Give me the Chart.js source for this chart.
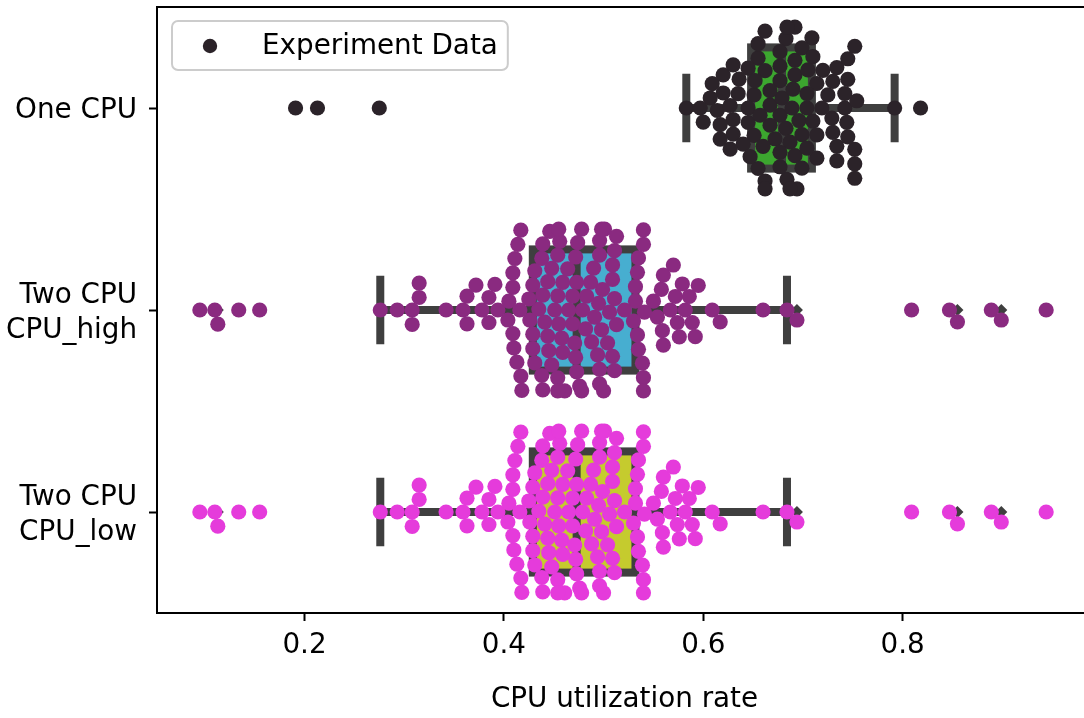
<!DOCTYPE html>
<html>
<head>
<meta charset="utf-8">
<title>CPU utilization rate</title>
<script src="https://cdn.jsdelivr.net/npm/chart.js@4.4.0/dist/chart.umd.min.js"></script>
<style>
  html, body { margin: 0; padding: 0; background: #ffffff; overflow: hidden; }
  #wrap { width: 1100px; height: 718px; }
</style>
</head>
<body>
<div id="wrap"><canvas id="chart" width="1100" height="718"></canvas></div>
<script>
// Category labels (multi-line labels are arrays of lines)
const categories = [['One CPU'], ['Two CPU', 'CPU_high'], ['Two CPU', 'CPU_low']];

// Measured CPU utilization per run
const oneCpu = [
  0.655, 0.662, 0.683, 0.699,
  0.651, 0.683, 0.696,
  0.651, 0.677, 0.692, 0.710,
  0.630, 0.645, 0.662, 0.677, 0.692, 0.709, 0.734, 0.744, 0.752,
  0.609, 0.620, 0.636, 0.655, 0.672, 0.687, 0.704, 0.714, 0.725, 0.745,
  0.607, 0.620, 0.635, 0.667, 0.684, 0.699, 0.714, 0.729, 0.742, 0.752,
  0.583, 0.597, 0.614, 0.627, 0.645, 0.662, 0.677, 0.694, 0.705, 0.720, 0.734, 0.745, 0.754,
  0.600, 0.617, 0.630, 0.645, 0.667, 0.679, 0.692, 0.704, 0.714, 0.730, 0.745, 0.752,
  0.617, 0.630, 0.640, 0.655, 0.677, 0.689, 0.704, 0.719, 0.742, 0.752,
  0.627, 0.647, 0.660, 0.677, 0.690, 0.710, 0.730,
  0.667, 0.687, 0.734,
  0.652, 0.677, 0.692,
  0.657, 0.662, 0.684, 0.699,
  0.191, 0.213, 0.275, 0.792, 0.818
];

const twoCpuHigh = [
  0.095, 0.110, 0.113, 0.134, 0.155,
  0.276, 0.293, 0.308, 0.308, 0.315, 0.315, 0.342, 0.359, 0.363, 0.363, 0.372, 0.378, 0.385, 0.385, 0.391, 0.394,
  0.418, 0.441, 0.454, 0.458, 0.476, 0.498, 0.501, 0.540,
  0.417, 0.438, 0.455, 0.472, 0.496, 0.541,
  0.413, 0.431, 0.448, 0.471, 0.496, 0.511, 0.535,
  0.410, 0.429, 0.446, 0.461, 0.478, 0.491, 0.509, 0.534,
  0.409, 0.429, 0.444, 0.459, 0.473, 0.490, 0.504, 0.532,
  0.405, 0.426, 0.439, 0.454, 0.469, 0.483, 0.499, 0.513, 0.530,
  0.416, 0.435, 0.451, 0.464, 0.479, 0.494, 0.506, 0.521, 0.539, 0.550,
  0.404, 0.425, 0.439, 0.454, 0.469, 0.487, 0.500, 0.532,
  0.409, 0.429, 0.444, 0.459, 0.473, 0.488, 0.509, 0.534,
  0.409, 0.431, 0.448, 0.465, 0.482, 0.496, 0.511, 0.535,
  0.411, 0.438, 0.454, 0.472, 0.496, 0.513, 0.540,
  0.414, 0.439, 0.456, 0.474, 0.495, 0.511, 0.540,
  0.417, 0.445, 0.455, 0.478, 0.498, 0.509, 0.540,
  0.554, 0.558, 0.559, 0.560, 0.560, 0.567, 0.570, 0.572, 0.574, 0.576, 0.579, 0.582,
  0.586, 0.589, 0.592, 0.595, 0.609, 0.617, 0.660, 0.684, 0.694,
  0.809, 0.847, 0.855, 0.889, 0.899, 0.944
];

const twoCpuLow = [
  0.095, 0.110, 0.113, 0.134, 0.155,
  0.276, 0.293, 0.308, 0.308, 0.315, 0.315, 0.342, 0.359, 0.363, 0.363, 0.372, 0.378, 0.385, 0.385, 0.391, 0.394,
  0.418, 0.441, 0.454, 0.458, 0.476, 0.498, 0.501, 0.540,
  0.417, 0.438, 0.455, 0.472, 0.496, 0.541,
  0.413, 0.431, 0.448, 0.471, 0.496, 0.511, 0.535,
  0.410, 0.429, 0.446, 0.461, 0.478, 0.491, 0.509, 0.534,
  0.409, 0.429, 0.444, 0.459, 0.473, 0.490, 0.504, 0.532,
  0.405, 0.426, 0.439, 0.454, 0.469, 0.483, 0.499, 0.513, 0.530,
  0.416, 0.435, 0.451, 0.464, 0.479, 0.494, 0.506, 0.521, 0.539, 0.550,
  0.404, 0.425, 0.439, 0.454, 0.469, 0.487, 0.500, 0.532,
  0.409, 0.429, 0.444, 0.459, 0.473, 0.488, 0.509, 0.534,
  0.409, 0.431, 0.448, 0.465, 0.482, 0.496, 0.511, 0.535,
  0.411, 0.438, 0.454, 0.472, 0.496, 0.513, 0.540,
  0.414, 0.439, 0.456, 0.474, 0.495, 0.511, 0.540,
  0.417, 0.445, 0.455, 0.478, 0.498, 0.509, 0.540,
  0.554, 0.558, 0.559, 0.560, 0.560, 0.567, 0.570, 0.572, 0.574, 0.576, 0.579, 0.582,
  0.586, 0.589, 0.592, 0.595, 0.609, 0.617, 0.660, 0.684, 0.694,
  0.809, 0.847, 0.855, 0.889, 0.899, 0.944
];

// Box-plot summary per category
const whiskerLow  = [0.583, 0.276, 0.276];
const quartile1   = [0.648, 0.429, 0.429];
const medians     = [0.679, 0.473, 0.473];
const quartile3   = [0.709, 0.532, 0.532];
const whiskerHigh = [0.792, 0.684, 0.684];

const xTicks = [0.2, 0.4, 0.6, 0.8];

// Styling
const seriesValues = [oneCpu, twoCpuHigh, twoCpuLow];
const dotColors = ['#2b2329', '#8a2a80', '#e53bdb'];
const boxColors = ['#3ca62f', '#47aed0', '#c5cb2e'];
const lineGray = '#3f3f3f';
const FONT = 'DejaVu Sans';
const FONT_SIZE = 27.8;
const DOT_RADIUS = 7.6;
const SWARM_RADIUS = 6.9;
const BOX_WIDTH = 0.6;     // in category units
const SWARM_WIDTH = 0.8;   // in category units
const LINE_W = 8;

Chart.defaults.font.family = FONT;
Chart.defaults.font.size = FONT_SIZE;
Chart.defaults.color = '#000';

// Outliers beyond the whiskers, drawn as diamonds beneath the swarm
const flierPoints = [];
seriesValues.forEach((vals, cat) => {
  vals.forEach(v => {
    if (v < whiskerLow[cat] || v > whiskerHigh[cat]) flierPoints.push({x: v, y: cat});
  });
});

// Beeswarm placement: points sorted by value, each one takes the free slot
// nearest the centre line; candidate sides alternate from one neighbour to the next.
// Offsets are in pixels, positive = upwards on screen.
function swarmOffsets(pixels, r) {
  const order = pixels.map((p, i) => i).sort((a, b) => pixels[a] - pixels[b] || a - b);
  const placed = [];
  const offsets = new Array(pixels.length).fill(0);
  const minSq = (2 * r) * (2 * r);
  for (const idx of order) {
    const p = pixels[idx];
    const neighbours = [];
    for (let j = placed.length - 1; j >= 0; j--) {
      if (p - placed[j].p < 2 * r) neighbours.push(placed[j]); else break;
    }
    const candidates = [0];
    let downFirst = true;
    for (const n of neighbours) {
      const dp = p - n.p;
      const d = Math.sqrt(Math.max(minSq - dp * dp, 0)) * 1.05;
      if (downFirst) candidates.push(n.o - d, n.o + d);
      else candidates.push(n.o + d, n.o - d);
      downFirst = !downFirst;
    }
    const ranked = candidates.map((c, k) => [c, k])
      .sort((a, b) => (Math.abs(a[0]) - Math.abs(b[0])) || (a[1] - b[1]));
    let chosen = ranked[ranked.length - 1][0];
    for (const [c] of ranked) {
      if (neighbours.every(n => (p - n.p) ** 2 + (c - n.o) ** 2 >= minSq - 1e-9)) { chosen = c; break; }
    }
    placed.push({p, o: chosen});
    offsets[idx] = chosen;
  }
  return offsets;
}

// Whiskers, caps, boxes and medians drawn under the points
const boxPlotLayer = {
  id: 'boxPlotLayer',
  beforeDatasetsDraw(chart) {
    const {ctx, scales: {x, y}} = chart;
    ctx.save();
    categories.forEach((c, i) => {
      const cy = y.getPixelForValue(i);
      const half = Math.abs(y.getPixelForValue(i + BOX_WIDTH / 2) - cy);
      const capHalf = half / 2;
      const xLo = x.getPixelForValue(whiskerLow[i]);
      const xQ1 = x.getPixelForValue(quartile1[i]);
      const xMed = x.getPixelForValue(medians[i]);
      const xQ3 = x.getPixelForValue(quartile3[i]);
      const xHi = x.getPixelForValue(whiskerHigh[i]);
      ctx.strokeStyle = lineGray;
      ctx.lineWidth = LINE_W;
      ctx.lineCap = 'square';
      ctx.beginPath();
      ctx.moveTo(xLo, cy); ctx.lineTo(xQ1, cy);
      ctx.moveTo(xQ3, cy); ctx.lineTo(xHi, cy);
      ctx.moveTo(xLo, cy - capHalf); ctx.lineTo(xLo, cy + capHalf);
      ctx.moveTo(xHi, cy - capHalf); ctx.lineTo(xHi, cy + capHalf);
      ctx.stroke();
      ctx.fillStyle = boxColors[i];
      ctx.fillRect(xQ1, cy - half, xQ3 - xQ1, 2 * half);
      ctx.lineJoin = 'miter';
      ctx.strokeRect(xQ1, cy - half, xQ3 - xQ1, 2 * half);
      ctx.lineCap = 'butt';
      ctx.beginPath();
      ctx.moveTo(xMed, cy - half); ctx.lineTo(xMed, cy + half);
      ctx.stroke();
    });
    ctx.restore();
  }
};

// Axes frame and the legend box
const frameAndLegend = {
  id: 'frameAndLegend',
  afterDraw(chart) {
    const {ctx, chartArea: a} = chart;
    ctx.save();
    ctx.strokeStyle = '#000';
    ctx.lineWidth = 2;
    ctx.strokeRect(a.left, a.top, a.right - a.left, a.bottom - a.top);

    const label = chart.data.datasets[0].label;
    ctx.font = FONT_SIZE + 'px "' + FONT + '"';
    const tw = ctx.measureText(label).width;
    const bx = a.left + 15, by = a.top + 14, bh = 49;
    const bw = 90 + tw + 10;
    const rr = 6;
    ctx.beginPath();
    ctx.moveTo(bx + rr, by);
    ctx.arcTo(bx + bw, by, bx + bw, by + bh, rr);
    ctx.arcTo(bx + bw, by + bh, bx, by + bh, rr);
    ctx.arcTo(bx, by + bh, bx, by, rr);
    ctx.arcTo(bx, by, bx + bw, by, rr);
    ctx.closePath();
    ctx.fillStyle = 'rgba(255,255,255,0.8)';
    ctx.fill();
    ctx.strokeStyle = '#cccccc';
    ctx.lineWidth = 2;
    ctx.stroke();

    ctx.fillStyle = dotColors[0];
    ctx.beginPath();
    ctx.arc(bx + 38, by + 25, 7.2, 0, Math.PI * 2);
    ctx.fill();

    ctx.fillStyle = '#000';
    ctx.textAlign = 'left';
    ctx.textBaseline = 'alphabetic';
    ctx.fillText(label, bx + 90, by + 33);
    ctx.restore();
  }
};

const swarmSets = seriesValues.map((vals, cat) => ({
  label: 'Experiment Data',
  data: vals.map(v => ({x: v, y: cat})),
  backgroundColor: dotColors[cat],
  pointBackgroundColor: dotColors[cat],
  pointBorderWidth: 0,
  pointRadius: DOT_RADIUS,
  pointHoverRadius: DOT_RADIUS,
  order: 0
}));

const flierSet = {
  label: 'outliers',
  data: flierPoints,
  pointStyle: 'rectRot',
  pointRadius: 6,
  pointHoverRadius: 6,
  pointBackgroundColor: lineGray,
  pointBorderWidth: 0,
  order: 1
};

const tickGrid = {
  display: true,
  drawOnChartArea: false,
  drawTicks: true,
  tickLength: 8,
  tickWidth: 2,
  tickColor: '#000'
};

const chart = new Chart(document.getElementById('chart'), {
  type: 'scatter',
  data: { datasets: [...swarmSets, flierSet] },
  options: {
    responsive: false,
    animation: false,
    devicePixelRatio: 1,
    events: [],
    layout: { autoPadding: false, padding: { top: 7, right: 8, left: 0, bottom: 0 } },
    plugins: { legend: { display: false }, tooltip: { enabled: false } },
    scales: {
      x: {
        type: 'linear',
        min: 0.052,
        max: 0.99,
        afterBuildTicks: s => { s.ticks = xTicks.map(v => ({value: v})); },
        afterFit: s => { s.height = 105; s.paddingLeft = 0; s.paddingRight = 0; },
        ticks: { autoSkip: false, maxRotation: 0, padding: 8, callback: v => v.toFixed(1) },
        grid: tickGrid,
        border: { display: false },
        title: { display: true, text: 'CPU utilization rate', padding: { top: 0, bottom: 2 } }
      },
      y: {
        type: 'linear',
        min: -0.5,
        max: 2.5,
        reverse: true,
        afterBuildTicks: s => { s.ticks = categories.map((c, i) => ({value: i})); },
        afterFit: s => { s.width = 157; s.paddingTop = 0; s.paddingBottom = 0; },
        ticks: {
          autoSkip: false,
          padding: 12,
          labelOffset: 3,
          font: { lineHeight: 1.26 },
          callback: v => categories[Math.round(v)]
        },
        grid: tickGrid,
        border: { display: false }
      }
    }
  },
  plugins: [boxPlotLayer, frameAndLegend]
});

// Spread each category's points into a swarm using the laid-out scales
(function placeSwarms() {
  const xs = chart.scales.x, ys = chart.scales.y;
  const unit = Math.abs(ys.getPixelForValue(1) - ys.getPixelForValue(0));
  const gutter = SWARM_WIDTH / 2 * unit;
  seriesValues.forEach((vals, cat) => {
    const px = vals.map(v => xs.getPixelForValue(v));
    const off = swarmOffsets(px, SWARM_RADIUS);
    chart.data.datasets[cat].data = vals.map((v, i) => {
      const o = Math.max(-gutter, Math.min(gutter, off[i]));
      return {x: v, y: cat - o / unit};
    });
  });
  chart.update('none');
})();
</script>
</body>
</html>
